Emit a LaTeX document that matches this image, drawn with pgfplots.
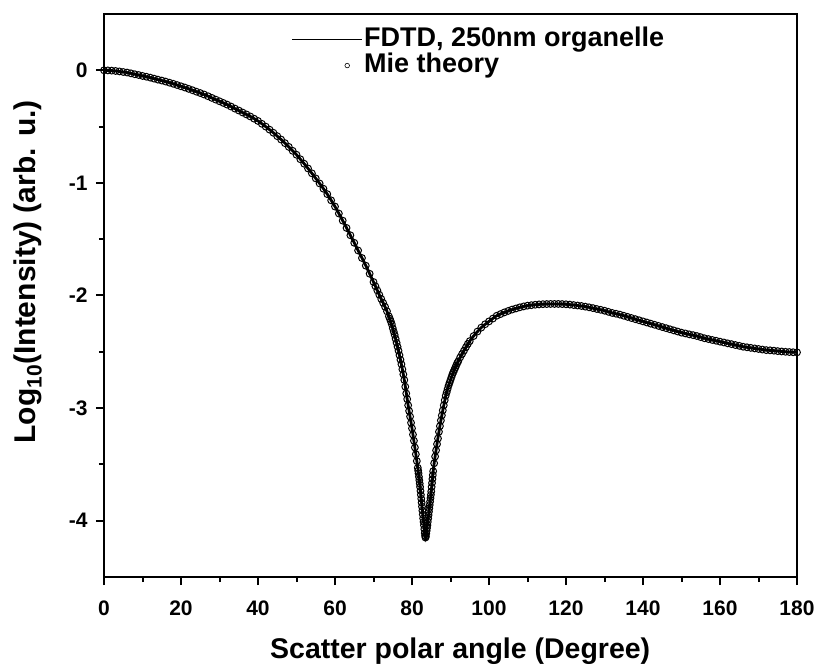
\documentclass[border=0pt]{standalone}
\usepackage{pgfplots}
\pgfplotsset{compat=1.18}
\usepackage{pgfplotstable}
\usepackage{fontspec}
\setmainfont{Liberation Sans}

\pgfplotstableread{
x y
0 0
2 -0.003
4 -0.010
6 -0.020
8 -0.035
10 -0.050
12 -0.065
14 -0.083
16 -0.100
18 -0.120
20 -0.142
22 -0.165
24 -0.190
26 -0.215
28 -0.245
30 -0.275
32 -0.305
34 -0.340
36 -0.375
38 -0.410
40 -0.450
42 -0.500
44 -0.555
46 -0.615
48 -0.680
50 -0.750
52 -0.830
54 -0.915
56 -1.005
58 -1.100
60 -1.210
62 -1.335
64 -1.465
66 -1.600
68 -1.735
70 -1.880
72 -2.030
73 -2.100
74 -2.185
75 -2.290
76 -2.420
77 -2.570
78 -2.750
79 -2.975
80 -3.180
81 -3.410
81.5 -3.530
82 -3.670
82.5 -3.840
83 -4.010
83.5 -4.150
84 -4.040
84.5 -3.890
85 -3.740
85.5 -3.560
86 -3.430
87 -3.210
88 -3.020
89 -2.860
90 -2.750
91 -2.660
92 -2.585
93 -2.520
94 -2.460
95 -2.405
96 -2.360
98 -2.285
100 -2.230
102 -2.180
104 -2.150
106 -2.125
108 -2.105
110 -2.090
112 -2.082
114 -2.077
116 -2.075
118 -2.075
120 -2.078
122 -2.085
124 -2.093
126 -2.105
128 -2.120
130 -2.135
132 -2.155
134 -2.170
136 -2.190
138 -2.210
140 -2.230
142 -2.250
144 -2.270
146 -2.290
148 -2.310
150 -2.330
152 -2.345
154 -2.360
156 -2.380
158 -2.395
160 -2.410
162 -2.425
164 -2.440
166 -2.455
168 -2.465
170 -2.475
172 -2.485
174 -2.490
176 -2.497
178 -2.502
180 -2.505
}\fdtd

\pgfplotstableread{
x y
0 0
1 -0.001
2 -0.003
3 -0.006
4 -0.010
5 -0.015
6 -0.020
7 -0.027
8 -0.035
9 -0.042
10 -0.050
11 -0.057
12 -0.065
13 -0.074
14 -0.083
15 -0.091
16 -0.100
17 -0.110
18 -0.120
19 -0.131
20 -0.142
21 -0.153
22 -0.165
23 -0.177
24 -0.190
25 -0.202
26 -0.215
27 -0.230
28 -0.245
29 -0.260
30 -0.275
31 -0.290
32 -0.305
33 -0.322
34 -0.340
35 -0.357
36 -0.375
37 -0.392
38 -0.410
39 -0.430
40 -0.450
41 -0.475
42 -0.500
43 -0.527
44 -0.555
45 -0.585
46 -0.615
47 -0.647
48 -0.680
49 -0.715
50 -0.750
51 -0.790
52 -0.830
53 -0.872
54 -0.915
55 -0.960
56 -1.005
57 -1.052
58 -1.100
59 -1.155
60 -1.210
61 -1.272
62 -1.335
63 -1.400
64 -1.465
65 -1.532
66 -1.600
67 -1.667
68 -1.735
69 -1.807
70 -1.880
70.5 -1.918
71 -1.955
71.5 -1.993
72 -2.030
72.5 -2.065
73 -2.100
73.5 -2.140
74 -2.185
74.25 -2.207
74.5 -2.230
74.75 -2.255
75 -2.290
75.25 -2.320
75.5 -2.350
75.75 -2.385
76 -2.420
76.25 -2.455
76.5 -2.490
76.75 -2.530
77 -2.570
77.25 -2.610
77.5 -2.655
77.75 -2.700
78 -2.750
78.25 -2.810
78.5 -2.870
78.75 -2.920
79 -2.975
79.25 -3.025
79.5 -3.075
79.75 -3.130
80 -3.180
80.25 -3.235
80.5 -3.290
80.75 -3.350
81 -3.410
81.25 -3.470
81.5 -3.530
81.6 -3.555
81.7 -3.580
81.8 -3.610
81.9 -3.640
82.0 -3.670
82.1 -3.700
82.2 -3.735
82.3 -3.770
82.4 -3.805
82.5 -3.840
82.6 -3.875
82.7 -3.910
82.8 -3.945
82.9 -3.980
83.0 -4.010
83.1 -4.040
83.2 -4.075
83.3 -4.110
83.4 -4.135
83.5 -4.150
83.6 -4.140
83.7 -4.115
83.8 -4.090
83.9 -4.065
84.0 -4.040
84.1 -4.010
84.2 -3.980
84.3 -3.950
84.4 -3.920
84.5 -3.890
84.6 -3.860
84.7 -3.830
84.8 -3.800
84.9 -3.770
85.0 -3.740
85.1 -3.700
85.2 -3.665
85.3 -3.630
85.4 -3.595
85.5 -3.560
85.75 -3.490
86 -3.430
86.25 -3.375
86.5 -3.320
86.75 -3.270
87 -3.210
87.25 -3.160
87.5 -3.110
87.75 -3.065
88 -3.020
88.25 -2.975
88.5 -2.930
88.75 -2.890
89 -2.860
89.25 -2.830
89.5 -2.800
89.75 -2.775
90 -2.750
90.25 -2.725
90.5 -2.700
90.75 -2.680
91 -2.660
91.25 -2.640
91.5 -2.620
91.75 -2.600
92 -2.585
92.5 -2.550
93 -2.520
93.5 -2.490
94 -2.460
94.5 -2.430
95 -2.405
96 -2.360
97 -2.320
98 -2.285
99 -2.255
100 -2.230
101 -2.205
102 -2.180
103 -2.165
104 -2.150
105 -2.137
106 -2.125
107 -2.115
108 -2.105
109 -2.097
110 -2.090
111 -2.086
112 -2.082
113 -2.079
114 -2.077
115 -2.076
116 -2.075
117 -2.075
118 -2.075
119 -2.076
120 -2.078
121 -2.081
122 -2.085
123 -2.089
124 -2.093
125 -2.099
126 -2.105
127 -2.112
128 -2.120
129 -2.127
130 -2.135
131 -2.145
132 -2.155
133 -2.162
134 -2.170
135 -2.180
136 -2.190
137 -2.200
138 -2.210
139 -2.220
140 -2.230
141 -2.240
142 -2.250
143 -2.260
144 -2.270
145 -2.280
146 -2.290
147 -2.300
148 -2.310
149 -2.320
150 -2.330
151 -2.337
152 -2.345
153 -2.352
154 -2.360
155 -2.370
156 -2.380
157 -2.387
158 -2.395
159 -2.402
160 -2.410
161 -2.417
162 -2.425
163 -2.432
164 -2.440
165 -2.447
166 -2.455
167 -2.460
168 -2.465
169 -2.470
170 -2.475
171 -2.480
172 -2.485
173 -2.487
174 -2.490
175 -2.494
176 -2.497
177 -2.500
178 -2.502
179 -2.504
180 -2.505
}\mie

\begin{document}
\begin{tikzpicture}
\begin{axis}[
  scale only axis, width=693pt, height=563pt,
  xmin=0, xmax=180, ymin=-4.5, ymax=0.5,
  xtick={0,20,...,180},
  ytick={-4,-3,-2,-1,0}, yticklabels={-4,-3,-2,-1,0},
  minor x tick num=1, minor y tick num=1,
  xtick pos=left, ytick pos=left, tick align=outside,
  major tick length=8pt, minor tick length=5pt,
  axis line style={line width=2.2pt},
  every tick/.append style={black, line width=2pt},
  tick label style={font=\bfseries\fontsize{21}{21}\selectfont},
  xticklabel style={yshift=-12pt},
  yticklabel style={xshift=-5pt},
  /pgf/number format/assume math mode=true,
  xlabel={Scatter polar angle (Degree)},
  ylabel={Log\textsubscript{10}(Intensity) (arb. u.)},
  xlabel style={font=\bfseries\fontsize{28.5}{28.5}\selectfont, at={(ticklabel cs:0.514)}},
  ylabel style={font=\bfseries\fontsize{30}{30}\selectfont, at={(ticklabel cs:0.542)}},
  xlabel shift=16pt,
  ylabel shift=20pt,
  legend style={draw=none, fill=none, at={(0.27,0.978)}, anchor=north west,
    font=\bfseries\fontsize{27}{27}\selectfont, row sep=0pt, inner sep=0pt,
    nodes={text height=19pt, text depth=5pt, inner sep=1pt},
    cells={anchor=west}},
  legend cell align=left,
]
\addplot[black, line width=2.8pt, smooth,
  legend image code/.code={\draw[line width=1.8pt] (0pt,0pt) -- (70pt,0pt);}]
  table {\fdtd};
\addlegendentry{FDTD, 250nm organelle}
\addplot[only marks, mark=o, mark size=3.4pt,
  mark options={line width=1pt, draw=black},
  legend image code/.code={\path[draw=none] (0pt,0pt) -- (70pt,0pt);
     \draw[line width=0.6pt] (55pt,0pt) circle (2.3pt);}]
  table {\mie};
\addlegendentry{Mie theory}
\end{axis}
\pgfresetboundingbox
\path ([shift={(-104pt,-89pt)}]current axis.south west) rectangle ([shift={(23pt,14pt)}]current axis.north east);
\end{tikzpicture}
\end{document}
